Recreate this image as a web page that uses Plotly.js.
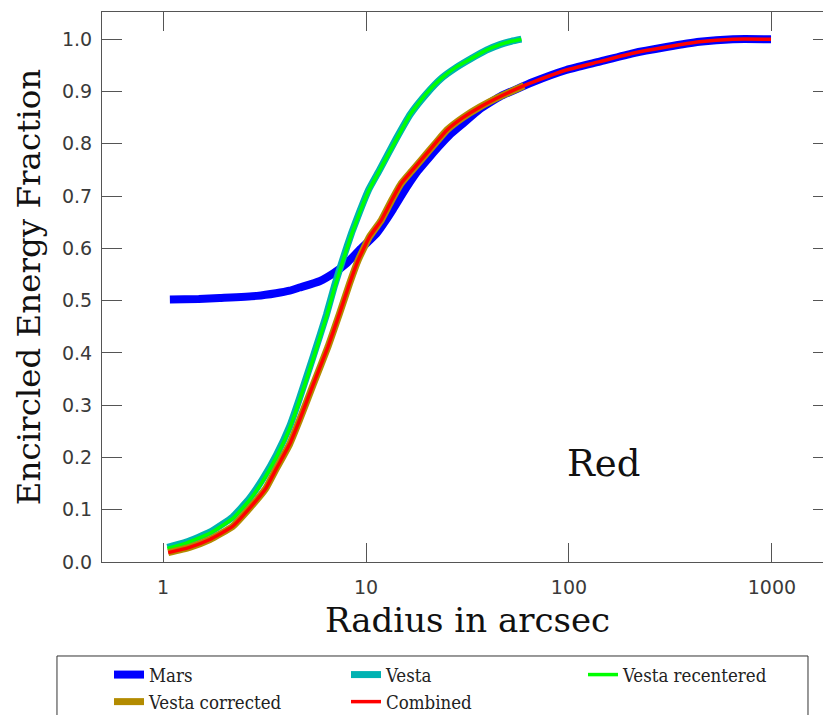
<!DOCTYPE html>
<html>
<head>
<meta charset="utf-8">
<script src="https://cdn.plot.ly/plotly-3.0.1.min.js"></script>
<style>
html, body { margin: 0; padding: 0; overflow: hidden; background: #fff; }
#chart { width: 840px; height: 740px; }
</style>
</head>
<body>
<div id="chart"></div>
<script>
// ---- data (radius in arcsec, encircled energy fraction) ----
const seriesNames = ["Mars", "Vesta", "Vesta recentered", "Vesta corrected", "Combined"];

const marsR = [1.08, 1.5, 1.9, 2.9, 3.6, 4.2, 4.7, 5.9, 6.9, 8.0, 9.3, 11.25, 12.6, 13.6, 15.8, 18.0, 20.6, 23.1, 26.0, 30.1, 36.3, 45.6, 66.5, 97, 141.6, 206, 302, 440, 642, 990];
const marsF = [0.502, 0.503, 0.505, 0.509, 0.514, 0.519, 0.525, 0.537, 0.552, 0.571, 0.597, 0.628, 0.655, 0.675, 0.716, 0.748, 0.775, 0.797, 0.818, 0.839, 0.866, 0.89, 0.918, 0.941, 0.957, 0.973, 0.985, 0.995, 1.0, 1.0];

const vestaR = [1.05, 1.3, 1.7, 2.2, 2.67, 3.1, 3.62, 4.2, 4.71, 5.5, 6.38, 7.0, 7.7, 8.5, 9.3, 10.3, 11.7, 14.1, 16.5, 19.8, 23.5, 27.9, 33, 39.2, 46, 52, 58.3];
const vestaF = [0.028, 0.038, 0.057, 0.086, 0.122, 0.159, 0.205, 0.259, 0.314, 0.394, 0.473, 0.529, 0.58, 0.63, 0.67, 0.712, 0.751, 0.81, 0.856, 0.895, 0.925, 0.946, 0.963, 0.979, 0.99, 0.996, 1.0];

const recenR = [1.05, 1.3, 1.7, 2.2, 2.67, 3.1, 3.62, 4.2, 4.71, 5.5, 6.38, 7.0, 7.7, 8.5, 9.3, 10.3, 11.7, 14.1, 16.5, 19.8, 23.5, 27.9, 33, 39.2, 46, 52, 58.3];
const recenF = [0.026, 0.036, 0.055, 0.083, 0.119, 0.155, 0.201, 0.255, 0.31, 0.39, 0.469, 0.525, 0.577, 0.627, 0.668, 0.71, 0.75, 0.808, 0.856, 0.896, 0.925, 0.947, 0.963, 0.979, 0.99, 0.996, 1.0];

const corrR = [1.06, 1.35, 1.7, 2.2, 2.67, 3.2, 3.62, 4.2, 4.71, 5.5, 6.5, 7.4, 8.3, 9.14, 10.4, 11.9, 13.3, 14.9, 16.8, 18.7, 22.2, 25, 30, 36.3, 45.6, 60];
const corrF = [0.018, 0.028, 0.043, 0.068, 0.103, 0.14, 0.179, 0.225, 0.272, 0.34, 0.412, 0.475, 0.533, 0.577, 0.622, 0.654, 0.69, 0.724, 0.748, 0.769, 0.803, 0.826, 0.85, 0.87, 0.89, 0.911];

const combR = [1.06, 1.35, 1.7, 2.2, 2.67, 3.2, 3.62, 4.2, 4.71, 5.5, 6.5, 7.4, 8.3, 9.14, 10.4, 11.9, 13.3, 14.9, 16.8, 18.7, 22.2, 25, 30, 36.3, 45.6, 60, 66.5, 97, 141.6, 206, 302, 440, 642, 990];
const combF = [0.018, 0.028, 0.043, 0.068, 0.103, 0.14, 0.179, 0.225, 0.272, 0.34, 0.412, 0.475, 0.533, 0.577, 0.622, 0.654, 0.69, 0.724, 0.748, 0.769, 0.803, 0.826, 0.85, 0.87, 0.89, 0.911, 0.918, 0.941, 0.957, 0.973, 0.985, 0.995, 1.0, 1.0];

const xTickVals = [1, 10, 100, 1000];
const xTickText = ["1", "10", "100", "1000"];
const yTickVals = [0.0, 0.1, 0.2, 0.3, 0.4, 0.5, 0.6, 0.7, 0.8, 0.9, 1.0];
const panelLabel = "Red";

// ---- styles ----
const colors = ["#0000ff", "#00b2b2", "#00ff00", "#b38b00", "#ff0000"];
const widths = [8, 7, 3.5, 7, 3.5];
const xs = [marsR, vestaR, recenR, corrR, combR];
const ys = [marsF, vestaF, recenF, corrF, combF];

const traces = seriesNames.map((n, i) => ({
  type: "scatter", mode: "lines", name: n,
  x: xs[i], y: ys[i],
  line: { color: colors[i], width: widths[i], shape: "spline", smoothing: 0.4 },
  hoverinfo: "skip"
}));

const tickFont = { family: "DejaVu Sans, sans-serif", size: 19, color: "#3a3a3a" };
const xTitleFont = { family: "DejaVu Serif, serif", size: 34, color: "#111" };
const yTitleFont = { family: "DejaVu Serif, serif", size: 32.5, color: "#111" };

const layout = {
  width: 840, height: 740,
  margin: { l: 102, r: 7, t: 12, b: 178 },
  paper_bgcolor: "#fff", plot_bgcolor: "#fff",
  showlegend: true,
  xaxis: {
    type: "log", range: [Math.log10(0.5), Math.log10(2000)],
    tickvals: xTickVals, ticktext: xTickText,
    ticks: "inside", ticklen: 19, tickwidth: 1, tickcolor: "#555",
    showline: true, linecolor: "#555", linewidth: 1, mirror: "ticks",
    showgrid: false, zeroline: false,
    tickfont: tickFont, ticklabelstandoff: 8,
    title: { text: "Radius in arcsec", font: xTitleFont, standoff: 11 },
    automargin: false
  },
  yaxis: {
    range: [0, 1.052],
    tickvals: yTickVals, tickformat: ".1f",
    ticks: "inside", ticklen: 20, tickwidth: 1, tickcolor: "#555",
    showline: true, linecolor: "#555", linewidth: 1, mirror: "ticks",
    showgrid: false, zeroline: false,
    tickfont: tickFont, ticklabelstandoff: 5,
    title: { text: "Encircled Energy Fraction", font: yTitleFont, standoff: 11 },
    automargin: false
  },
  legend: {
    orientation: "h", x: 0.0096, xanchor: "left", y: -0.171, yanchor: "top",
    entrywidth: 192, entrywidthmode: "pixels",
    bgcolor: "rgba(0,0,0,0)", borderwidth: 0,
    font: { family: "DejaVu Serif Condensed, DejaVu Serif, serif", size: 18.5, color: "#222" },
    traceorder: "normal"
  },
  shapes: [{
    type: "rect", xref: "paper", yref: "paper",
    x0: -0.0616, x1: 0.9658, y0: -0.1709, y1: -0.30,
    line: { color: "#333", width: 1 }, fillcolor: "rgba(0,0,0,0)"
  }],
  annotations: [{
    text: panelLabel, xref: "paper", yref: "paper",
    x: 0.6867, y: 0.18, xanchor: "center", yanchor: "middle",
    showarrow: false,
    font: { family: "DejaVu Serif, serif", size: 37, color: "#111" }
  }]
};

Plotly.newPlot("chart", traces, layout, { displayModeBar: false, staticPlot: true });
</script>
</body>
</html>
